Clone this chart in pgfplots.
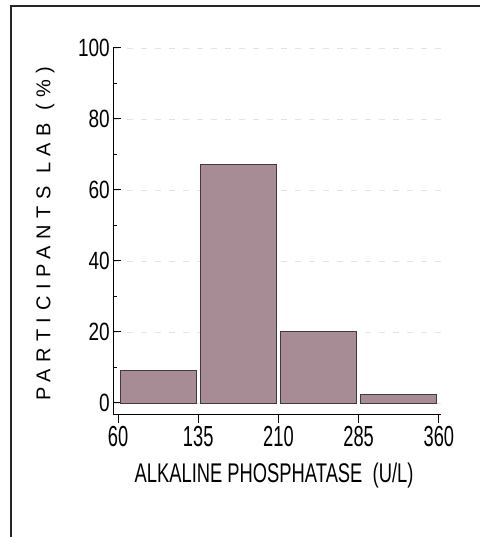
\documentclass[border=0pt]{standalone}
\usepackage{fontspec}
\setmainfont{Liberation Sans}
\newfontfamily\xtickfont[FakeStretch=0.63]{Liberation Sans}
\newfontfamily\ytickfont[FakeStretch=0.76]{Liberation Sans}
\newfontfamily\ylabfont[LetterSpace=33]{Liberation Sans}
\newfontfamily\xlabfont[FakeStretch=0.68]{Liberation Sans}
\usepackage{pgfplots}
\pgfplotsset{compat=1.18}
\definecolor{barfill}{RGB}{168,140,149}
\definecolor{baredge}{RGB}{70,56,64}
\begin{document}
\begin{tikzpicture}
\useasboundingbox (0pt,0pt) rectangle (480pt,537pt);
\draw[line width=2pt, black!85] (11pt,0pt) -- (11pt,531pt) -- (480pt,531pt);
\begin{axis}[
  at={(113pt,122pt)}, anchor=south west,
  width=328pt, height=367pt, scale only axis,
  xmin=55.3, xmax=362, ymin=-3.4, ymax=100,
  axis x line=bottom, axis y line=left, axis line style={-, line width=1pt},
  xtick={60,135,210,285,360}, ytick={0,20,...,100}, minor y tick num=1,
  tick align=inside, major tick length=8pt, minor tick length=4pt,
  tick style={line width=1pt, black},
  ymajorgrids, major grid style={gray!22, dash pattern=on 6pt off 8pt},
  /pgf/number format/assume math mode=true,
  xticklabel style={font=\xtickfont\fontsize{29}{29}\selectfont, anchor=north, inner sep=0pt, yshift=-3pt},
  yticklabel style={font=\ytickfont\fontsize{25}{25}\selectfont, anchor=east, inner sep=0pt, xshift=-3pt},
  xlabel={ALKALINE PHOSPHATASE\ \ (U/L)},
  xlabel style={font=\xlabfont\fontsize{27}{27}\selectfont, at={(axis description cs:0.491,-0.165)}, anchor=center},
  ylabel={PARTICIPANTS LAB (\%)},
  ylabel style={font=\ylabfont\fontsize{20}{20}\selectfont, at={(axis description cs:-0.207,0.494)}, anchor=center},
  ybar, bar width=71, bar shift=0pt,
]
\addplot[fill=barfill, draw=baredge, line width=0.8pt] coordinates {(97.5,9.1) (172.5,67.3) (247.5,20.1) (322.5,2.5)};
\end{axis}
\end{tikzpicture}
\end{document}
